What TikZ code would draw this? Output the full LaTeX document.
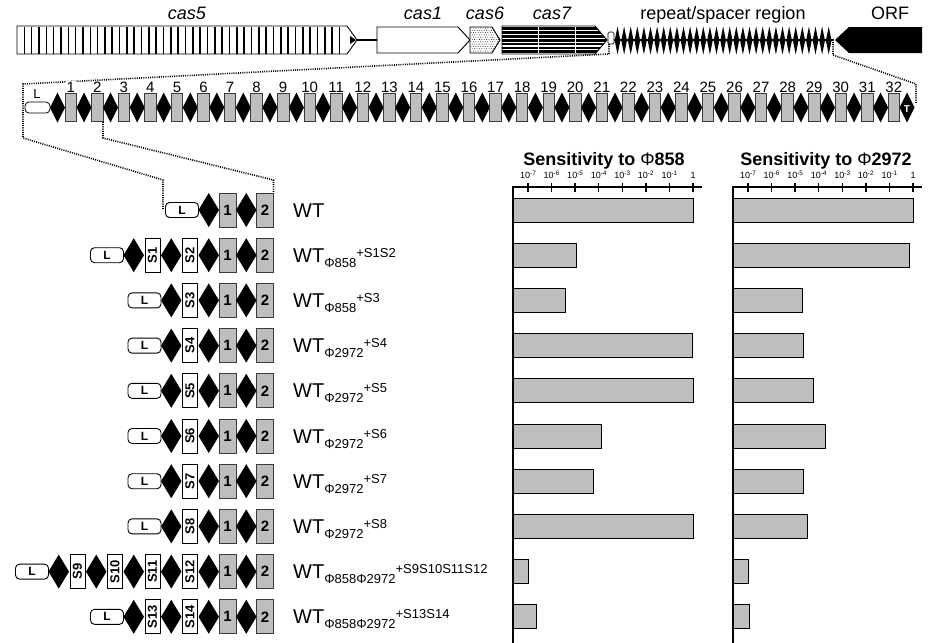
\documentclass[tikz,border=0pt]{standalone}
\usepackage{fontspec}
\setmainfont{Liberation Sans}
\definecolor{sp}{HTML}{BCBEC0}
\definecolor{ol}{HTML}{3A3A3A}
\newcommand\fz[1]{\fontsize{#1}{#1}\selectfont}
\newcommand\dmd[4]{\fill[black] ({#1-(#3)/2},#2) -- (#1,{#2-(#4)/2}) -- ({#1+(#3)/2},#2) -- (#1,{#2+(#4)/2}) -- cycle;}
\newcommand\wtl[2]{WT\raisebox{-5pt}{\fz{13}#1}\raisebox{5pt}{\fz{13}#2}}
\newcommand\tlab[1]{10\raisebox{3.2pt}{\fz{6.5}-#1}}
\newcommand\crow[4]{%
  \foreach \lab/\typ [count=\c] in {#4} {%
    \pgfmathsetmacro\xx{265-37.5*(#3-\c)}%
    \dmd{\xx-18.75}{#2}{20.5}{34}%
    \expandafter\node\expandafter[\typ] (#1s\c) at (\xx,#2) {\lab};%
  }%
  \pgfmathsetmacro\xl{219.5-37.5*(#3-1)}%
  \node[lbox] (#1L) at (\xl,#2) {L};%
}
\begin{document}
\begin{tikzpicture}[x=1pt,y=-1pt,
  gsp/.style={draw=ol,line width=0.9pt,fill=sp,minimum width=17pt,minimum height=34pt,inner sep=0pt,font=\bfseries\fz{15}},
  wsp/.style={draw=black,line width=0.9pt,fill=white,minimum width=34pt,minimum height=15pt,inner sep=0pt,font=\bfseries\fz{13},rotate=90},
  lbox/.style={draw=black,line width=0.9pt,fill=white,rounded corners=4pt,minimum width=33pt,minimum height=15pt,inner sep=0pt,font=\bfseries\fz{12}},
  rsp/.style={draw=ol,line width=0.8pt,fill=sp,minimum width=11.5pt,minimum height=28pt,inner sep=0pt},
  rnum/.style={font=\fz{15},fill=white,inner sep=1pt},
  dotframe/.style={line width=1.6pt,dash pattern=on 1pt off 1.2pt},
  sbar/.style={draw=black,line width=1pt,fill=sp},
  genebox/.style={draw=black,line width=0.9pt},
  toplab/.style={font=\fz{18},anchor=base},
  wtlab/.style={font=\fz{20},anchor=base west,inner sep=0pt},
  ticklab/.style={font=\fz{9},anchor=base,inner sep=0pt},
  ctitle/.style={font=\bfseries\fz{18},anchor=base,inner sep=0pt},
]
\useasboundingbox (0,0) rectangle (930,643);
% ---------- top gene map ----------
\node[toplab] (lc5) at (187,19) {\itshape cas5};
\node[toplab] (lc1) at (423,19) {\itshape cas1};
\node[toplab] (lc6) at (485,19) {\itshape cas6};
\node[toplab] (lc7) at (552,19) {\itshape cas7};
\node[toplab] (lrs) at (723,19) {repeat/spacer region};
\node[toplab] (lorf) at (890,19) {ORF};
% cas5
\draw[genebox,fill=white] (17,26) -- (347,26) -- (357,40) -- (347,54) -- (17,54) -- cycle;
\foreach \i in {1,...,44} \draw[line width=1.6pt] (17+\i*7.33,26.5) -- (17+\i*7.33,53.5);
\fill (350,36) -- (356,40) -- (350,44) -- cycle;
\coordinate (c5tip) at (357,40);
\coordinate (c1left) at (377,40);
\draw[line width=2pt] (c5tip) -- (c1left);
% cas1
\draw[genebox,fill=white] (377,27) -- (458,27) -- (470,40) -- (458,53) -- (377,53) -- cycle;
% cas6
\begin{scope}
\clip (470,27) -- (492,27) -- (500,40) -- (492,53) -- (470,53) -- cycle;
\fill[white] (468,25) rectangle (502,55);
\foreach \i in {0,...,12} \foreach \j in {0,...,11} \fill ({471+\i*2.4+mod(\j,2)*1.2},{28+\j*2.3}) circle (0.45);
\end{scope}
\draw[genebox] (470,27) -- (492,27) -- (500,40) -- (492,53) -- (470,53) -- cycle;
% cas7
\begin{scope}
\clip (502,26) -- (595,26) -- (607,40) -- (595,54) -- (502,54) -- cycle;
\fill[white] (500,20) rectangle (610,60);
\foreach \j in {0,...,6} \fill (500,{27.3+\j*3.85}) rectangle (610,{27.3+\j*3.85+2.7});
\draw[white,line width=0.7pt] (538,26) -- (538,54) (575,26) -- (575,54);
\end{scope}
\draw[genebox] (502,26) -- (595,26) -- (607,40) -- (595,54) -- (502,54) -- cycle;
% repeats
\draw[line width=1.5pt] (614,40) -- (834,40);
\foreach \i in {0,...,32} {\dmd{617.5+\i*6.6}{40.5}{5.6}{28}}
\node[draw=black,line width=0.7pt,fill=white,rounded corners=1.5pt,minimum width=6pt,minimum height=12pt,inner sep=0pt] (lead) at (611,38) {};
% ORF
\fill (835,40) -- (849,27) -- (922,27) -- (922,53) -- (849,53) -- cycle;
% ---------- dotted zoom frames ----------
\draw[dotframe] (609,44) -- (609,54) -- (23,84) -- (23,138) -- (163,180) -- (163,209);
\draw[dotframe] (833,42) -- (833,55) -- (916,84) -- (916,104);
\draw[dotframe] (103,122) -- (103,138) -- (273.5,180) -- (273.5,193);
% ---------- repeat array ----------
\node[font=\fz{13}] (Ltxt) at (37,94) {L};
\node[draw=black,line width=0.8pt,fill=white,rounded corners=4pt,minimum width=25pt,minimum height=11pt,inner sep=0pt] (rL) at (37.5,107.5) {};
\foreach \k in {1,...,32} {
  \pgfmathsetmacro\xs{70.75+26.55*(\k-1)}
  \dmd{\xs-13.25}{107.5}{15}{30}
  \node[rsp] (rp\k) at (\xs,107.5) {};
  \node[rnum] (n\k) at (\xs,87) {\k};
}
\dmd{907}{107.5}{15}{30}
\node[font=\bfseries\fz{10},text=white,inner sep=0pt] (T) at (907,109) {T};
% ---------- constructs ----------
\crow{r0}{210}{2}{1/gsp,2/gsp}
\crow{r1}{255.2}{4}{S1/wsp,S2/wsp,1/gsp,2/gsp}
\crow{r2}{300.4}{3}{S3/wsp,1/gsp,2/gsp}
\crow{r3}{345.6}{3}{S4/wsp,1/gsp,2/gsp}
\crow{r4}{390.8}{3}{S5/wsp,1/gsp,2/gsp}
\crow{r5}{436}{3}{S6/wsp,1/gsp,2/gsp}
\crow{r6}{481.2}{3}{S7/wsp,1/gsp,2/gsp}
\crow{r7}{526.4}{3}{S8/wsp,1/gsp,2/gsp}
\crow{r8}{571.6}{6}{S9/wsp,S10/wsp,S11/wsp,S12/wsp,1/gsp,2/gsp}
\crow{r9}{616.8}{4}{S13/wsp,S14/wsp,1/gsp,2/gsp}
\node[wtlab] (t0) at (293,217) {WT};
\node[wtlab] (t1) at (293,262.2) {\wtl{Φ858}{+S1S2}};
\node[wtlab] (t2) at (293,307.4) {\wtl{Φ858}{+S3}};
\node[wtlab] (t3) at (293,352.6) {\wtl{Φ2972}{+S4}};
\node[wtlab] (t4) at (293,397.8) {\wtl{Φ2972}{+S5}};
\node[wtlab] (t5) at (293,443) {\wtl{Φ2972}{+S6}};
\node[wtlab] (t6) at (293,488.2) {\wtl{Φ2972}{+S7}};
\node[wtlab] (t7) at (293,533.4) {\wtl{Φ2972}{+S8}};
\node[wtlab] (t8) at (293,578.6) {\wtl{Φ858Φ2972}{+S9S10S11S12}};
\node[wtlab] (t9) at (293,623.8) {\wtl{Φ858Φ2972}{+S13S14}};
% ---------- charts ----------
\node[ctitle] (h1) at (604,165) {Sensitivity to {\mdseries Φ}858};
\node[ctitle] (h2) at (826,165) {Sensitivity to {\mdseries Φ}2972};
\foreach \yc/\a/\b in {210/693/913, 255.2/576/909, 300.4/565/802, 345.6/692/803, 390.8/693/813, 436/601/825, 481.2/593/803, 526.4/693/807, 571.6/528/748, 616.8/536/749} {
  \draw[sbar] (513,\yc-12) rectangle (\a,\yc+12);
  \draw[sbar] (733,\yc-12) rectangle (\b,\yc+12);
}
\foreach \ox in {513,733} {
  \draw[line width=1.8pt] (\ox,187) -- (\ox,643);
  \draw[line width=1.5pt] (\ox-0.9,187) -- (\ox+189,187);
  \foreach \t in {0,...,7} \draw[line width=1.3pt] (\ox+15+23.57*\t,182.5) -- (\ox+15+23.57*\t,191.5);
  \foreach \t/\e in {0/7,1/6,2/5,3/4,4/3,5/2,6/1} \node[ticklab] at (\ox+15+23.57*\t,178.5) {\tlab{\e}};
  \node[ticklab] at (\ox+180,178.5) {1};
}
\end{tikzpicture}
\end{document}
